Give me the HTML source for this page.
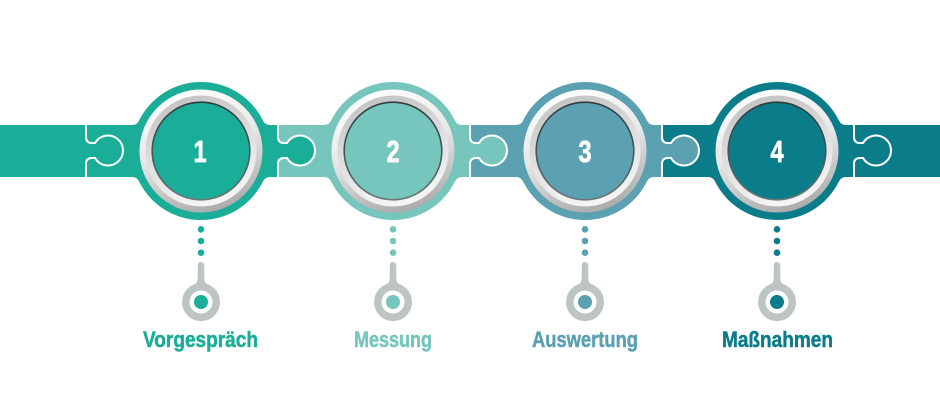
<!DOCTYPE html>
<html>
<head>
<meta charset="utf-8">
<style>
  html,body{margin:0;padding:0;background:#ffffff;}
  svg{display:block;}
  .num{font-family:"Liberation Sans",sans-serif;font-weight:bold;font-size:31px;fill:#ffffff;stroke:#ffffff;stroke-width:0.7;}
  .lbl{font-family:"Liberation Sans",sans-serif;font-weight:bold;font-size:22px;stroke-width:0.5;}
</style>
</head>
<body>
<svg width="940" height="400" viewBox="0 0 940 400" xmlns="http://www.w3.org/2000/svg">
  <defs>
    <linearGradient id="ro" x1="0.35" y1="0" x2="0.65" y2="1">
      <stop offset="0" stop-color="#ffffff"/>
      <stop offset="0.45" stop-color="#e8e8e8"/>
      <stop offset="1" stop-color="#a9a9a9"/>
    </linearGradient>
    <linearGradient id="ri" x1="0.35" y1="0" x2="0.65" y2="1">
      <stop offset="0" stop-color="#c4c4c4"/>
      <stop offset="0.5" stop-color="#e0e0e0"/>
      <stop offset="1" stop-color="#f7f7f7"/>
    </linearGradient>
    <linearGradient id="rim" x1="0" y1="0" x2="0" y2="1">
      <stop offset="0" stop-color="#2f3c3e"/>
      <stop offset="0.6" stop-color="#4a5a5c"/>
      <stop offset="1" stop-color="#6a7678"/>
    </linearGradient>
  </defs>

  <!-- end bands -->
  <rect x="0" y="125" width="87" height="52" fill="#1aae98"/>
  <rect x="853" y="125" width="87" height="52" fill="#0b7d8a"/>

  <!-- circle shapes -->
  <path fill="#1aae98" d="M86,125 L131.9,125 A8,8 0 0 0 139.1,120.5 A69,69 0 0 1 262.9,120.5 A8,8 0 0 0 270.1,125 L278,125 L278,177 L270.1,177 A8,8 0 0 0 262.9,181.5 A69,69 0 0 1 139.1,181.5 A8,8 0 0 0 131.9,177 L86,177 Z"/>
  <path fill="#76c6bd" d="M278,125 L323.9,125 A8,8 0 0 0 331.1,120.5 A69,69 0 0 1 454.9,120.5 A8,8 0 0 0 462.1,125 L470,125 L470,177 L462.1,177 A8,8 0 0 0 454.9,181.5 A69,69 0 0 1 331.1,181.5 A8,8 0 0 0 323.9,177 L278,177 Z"/>
  <path fill="#5ba1b2" d="M470,125 L515.9,125 A8,8 0 0 0 523.1,120.5 A69,69 0 0 1 646.9,120.5 A8,8 0 0 0 654.1,125 L662,125 L662,177 L654.1,177 A8,8 0 0 0 646.9,181.5 A69,69 0 0 1 523.1,181.5 A8,8 0 0 0 515.9,177 L470,177 Z"/>
  <path fill="#0b7d8a" d="M662,125 L707.9,125 A8,8 0 0 0 715.1,120.5 A69,69 0 0 1 838.9,120.5 A8,8 0 0 0 846.1,125 L854,125 L854,177 L846.1,177 A8,8 0 0 0 838.9,181.5 A69,69 0 0 1 715.1,181.5 A8,8 0 0 0 707.9,177 L662,177 Z"/>

  <!-- puzzle knobs -->
  <path fill="#1aae98" d="M86,137 Q86,143 92,143 L95,143 A15,15 0 1 1 95,158 L92,158 Q86,158 86,164 Z"/>
  <path fill="#1aae98" d="M278,137 Q278,143 284,143 L287,143 A15,15 0 1 1 287,158 L284,158 Q278,158 278,164 Z"/>
  <path fill="#76c6bd" d="M470,137 Q470,143 476,143 L479,143 A15,15 0 1 1 479,158 L476,158 Q470,158 470,164 Z"/>
  <path fill="#5ba1b2" d="M662,137 Q662,143 668,143 L671,143 A15,15 0 1 1 671,158 L668,158 Q662,158 662,164 Z"/>
  <path fill="#0b7d8a" d="M854,137 Q854,143 860,143 L863,143 A15,15 0 1 1 863,158 L860,158 Q854,158 854,164 Z"/>

  <!-- white outlines -->
  <g fill="none" stroke="#ffffff" stroke-width="2">
    <path d="M86,125 V137 Q86,143 92,143 L95,143 A15,15 0 1 1 95,158 L92,158 Q86,158 86,164 V177"/>
    <path d="M278,125 V137 Q278,143 284,143 L287,143 A15,15 0 1 1 287,158 L284,158 Q278,158 278,164 V177"/>
    <path d="M470,125 V137 Q470,143 476,143 L479,143 A15,15 0 1 1 479,158 L476,158 Q470,158 470,164 V177"/>
    <path d="M662,125 V137 Q662,143 668,143 L671,143 A15,15 0 1 1 671,158 L668,158 Q662,158 662,164 V177"/>
    <path d="M854,125 V137 Q854,143 860,143 L863,143 A15,15 0 1 1 863,158 L860,158 Q854,158 854,164 V177"/>
  </g>

  <!-- silver rings and inner discs -->
  <g>
    <circle cx="201" cy="151" r="61.5" fill="url(#ro)"/>
    <circle cx="201" cy="151" r="55.5" fill="url(#ri)"/>
    <circle cx="201" cy="151" r="48.8" fill="#1aae98" stroke="url(#rim)" stroke-width="1.6"/>
    <circle cx="393" cy="151" r="61.5" fill="url(#ro)"/>
    <circle cx="393" cy="151" r="55.5" fill="url(#ri)"/>
    <circle cx="393" cy="151" r="48.8" fill="#76c6bd" stroke="url(#rim)" stroke-width="1.6"/>
    <circle cx="585" cy="151" r="61.5" fill="url(#ro)"/>
    <circle cx="585" cy="151" r="55.5" fill="url(#ri)"/>
    <circle cx="585" cy="151" r="48.8" fill="#5ba1b2" stroke="url(#rim)" stroke-width="1.6"/>
    <circle cx="777" cy="151" r="61.5" fill="url(#ro)"/>
    <circle cx="777" cy="151" r="55.5" fill="url(#ri)"/>
    <circle cx="777" cy="151" r="48.8" fill="#0b7d8a" stroke="url(#rim)" stroke-width="1.6"/>
  </g>

  <!-- numbers -->
  <text class="num" text-anchor="middle" transform="translate(200,162) scale(0.76,1)">1</text>
  <text class="num" text-anchor="middle" transform="translate(393,162) scale(0.76,1)">2</text>
  <text class="num" text-anchor="middle" transform="translate(585,162) scale(0.76,1)">3</text>
  <text class="num" text-anchor="middle" transform="translate(777,162) scale(0.76,1)">4</text>

  <!-- dotted connectors -->
  <g>
    <circle cx="201" cy="229.3" r="3.3" fill="#1aae98"/>
    <circle cx="201" cy="241" r="3.3" fill="#1aae98"/>
    <circle cx="201" cy="252.7" r="3.3" fill="#1aae98"/>
    <circle cx="393" cy="229.3" r="3.3" fill="#76c6bd"/>
    <circle cx="393" cy="241" r="3.3" fill="#76c6bd"/>
    <circle cx="393" cy="252.7" r="3.3" fill="#76c6bd"/>
    <circle cx="585" cy="229.3" r="3.3" fill="#5ba1b2"/>
    <circle cx="585" cy="241" r="3.3" fill="#5ba1b2"/>
    <circle cx="585" cy="252.7" r="3.3" fill="#5ba1b2"/>
    <circle cx="777" cy="229.3" r="3.3" fill="#0b7d8a"/>
    <circle cx="777" cy="241" r="3.3" fill="#0b7d8a"/>
    <circle cx="777" cy="252.7" r="3.3" fill="#0b7d8a"/>
  </g>

  <!-- keyhole markers -->
  <g fill="#bec3c3">
    <path d="M197.75,265.25 A3.25,3.25 0 0 1 204.25,265.25 V278.8 A6,6 0 0 0 208.03,284.4 A19,19 0 1 1 193.97,284.4 A6,6 0 0 0 197.75,278.8 Z"/>
    <path d="M389.75,265.25 A3.25,3.25 0 0 1 396.25,265.25 V278.8 A6,6 0 0 0 400.03,284.4 A19,19 0 1 1 385.97,284.4 A6,6 0 0 0 389.75,278.8 Z"/>
    <path d="M581.75,265.25 A3.25,3.25 0 0 1 588.25,265.25 V278.8 A6,6 0 0 0 592.03,284.4 A19,19 0 1 1 577.97,284.4 A6,6 0 0 0 581.75,278.8 Z"/>
    <path d="M773.75,265.25 A3.25,3.25 0 0 1 780.25,265.25 V278.8 A6,6 0 0 0 784.03,284.4 A19,19 0 1 1 769.97,284.4 A6,6 0 0 0 773.75,278.8 Z"/>
  </g>
  <g fill="#ffffff">
    <circle cx="201" cy="302" r="11.5"/>
    <circle cx="393" cy="302" r="11.5"/>
    <circle cx="585" cy="302" r="11.5"/>
    <circle cx="777" cy="302" r="11.5"/>
  </g>
  <circle cx="201" cy="302" r="7" fill="#1aae98"/>
  <circle cx="393" cy="302" r="7" fill="#76c6bd"/>
  <circle cx="585" cy="302" r="7" fill="#5ba1b2"/>
  <circle cx="777" cy="302" r="7" fill="#0b7d8a"/>

  <!-- labels -->
  <text class="lbl" x="143" y="347" textLength="115" lengthAdjust="spacingAndGlyphs" fill="#1aae98" stroke="#1aae98">Vorgespräch</text>
  <text class="lbl" x="354" y="347" textLength="78" lengthAdjust="spacingAndGlyphs" fill="#76c6bd" stroke="#76c6bd">Messung</text>
  <text class="lbl" x="532" y="347" textLength="106" lengthAdjust="spacingAndGlyphs" fill="#5ba1b2" stroke="#5ba1b2">Auswertung</text>
  <text class="lbl" x="722" y="347" textLength="111" lengthAdjust="spacingAndGlyphs" fill="#0b7d8a" stroke="#0b7d8a">Maßnahmen</text>
</svg>
</body>
</html>
